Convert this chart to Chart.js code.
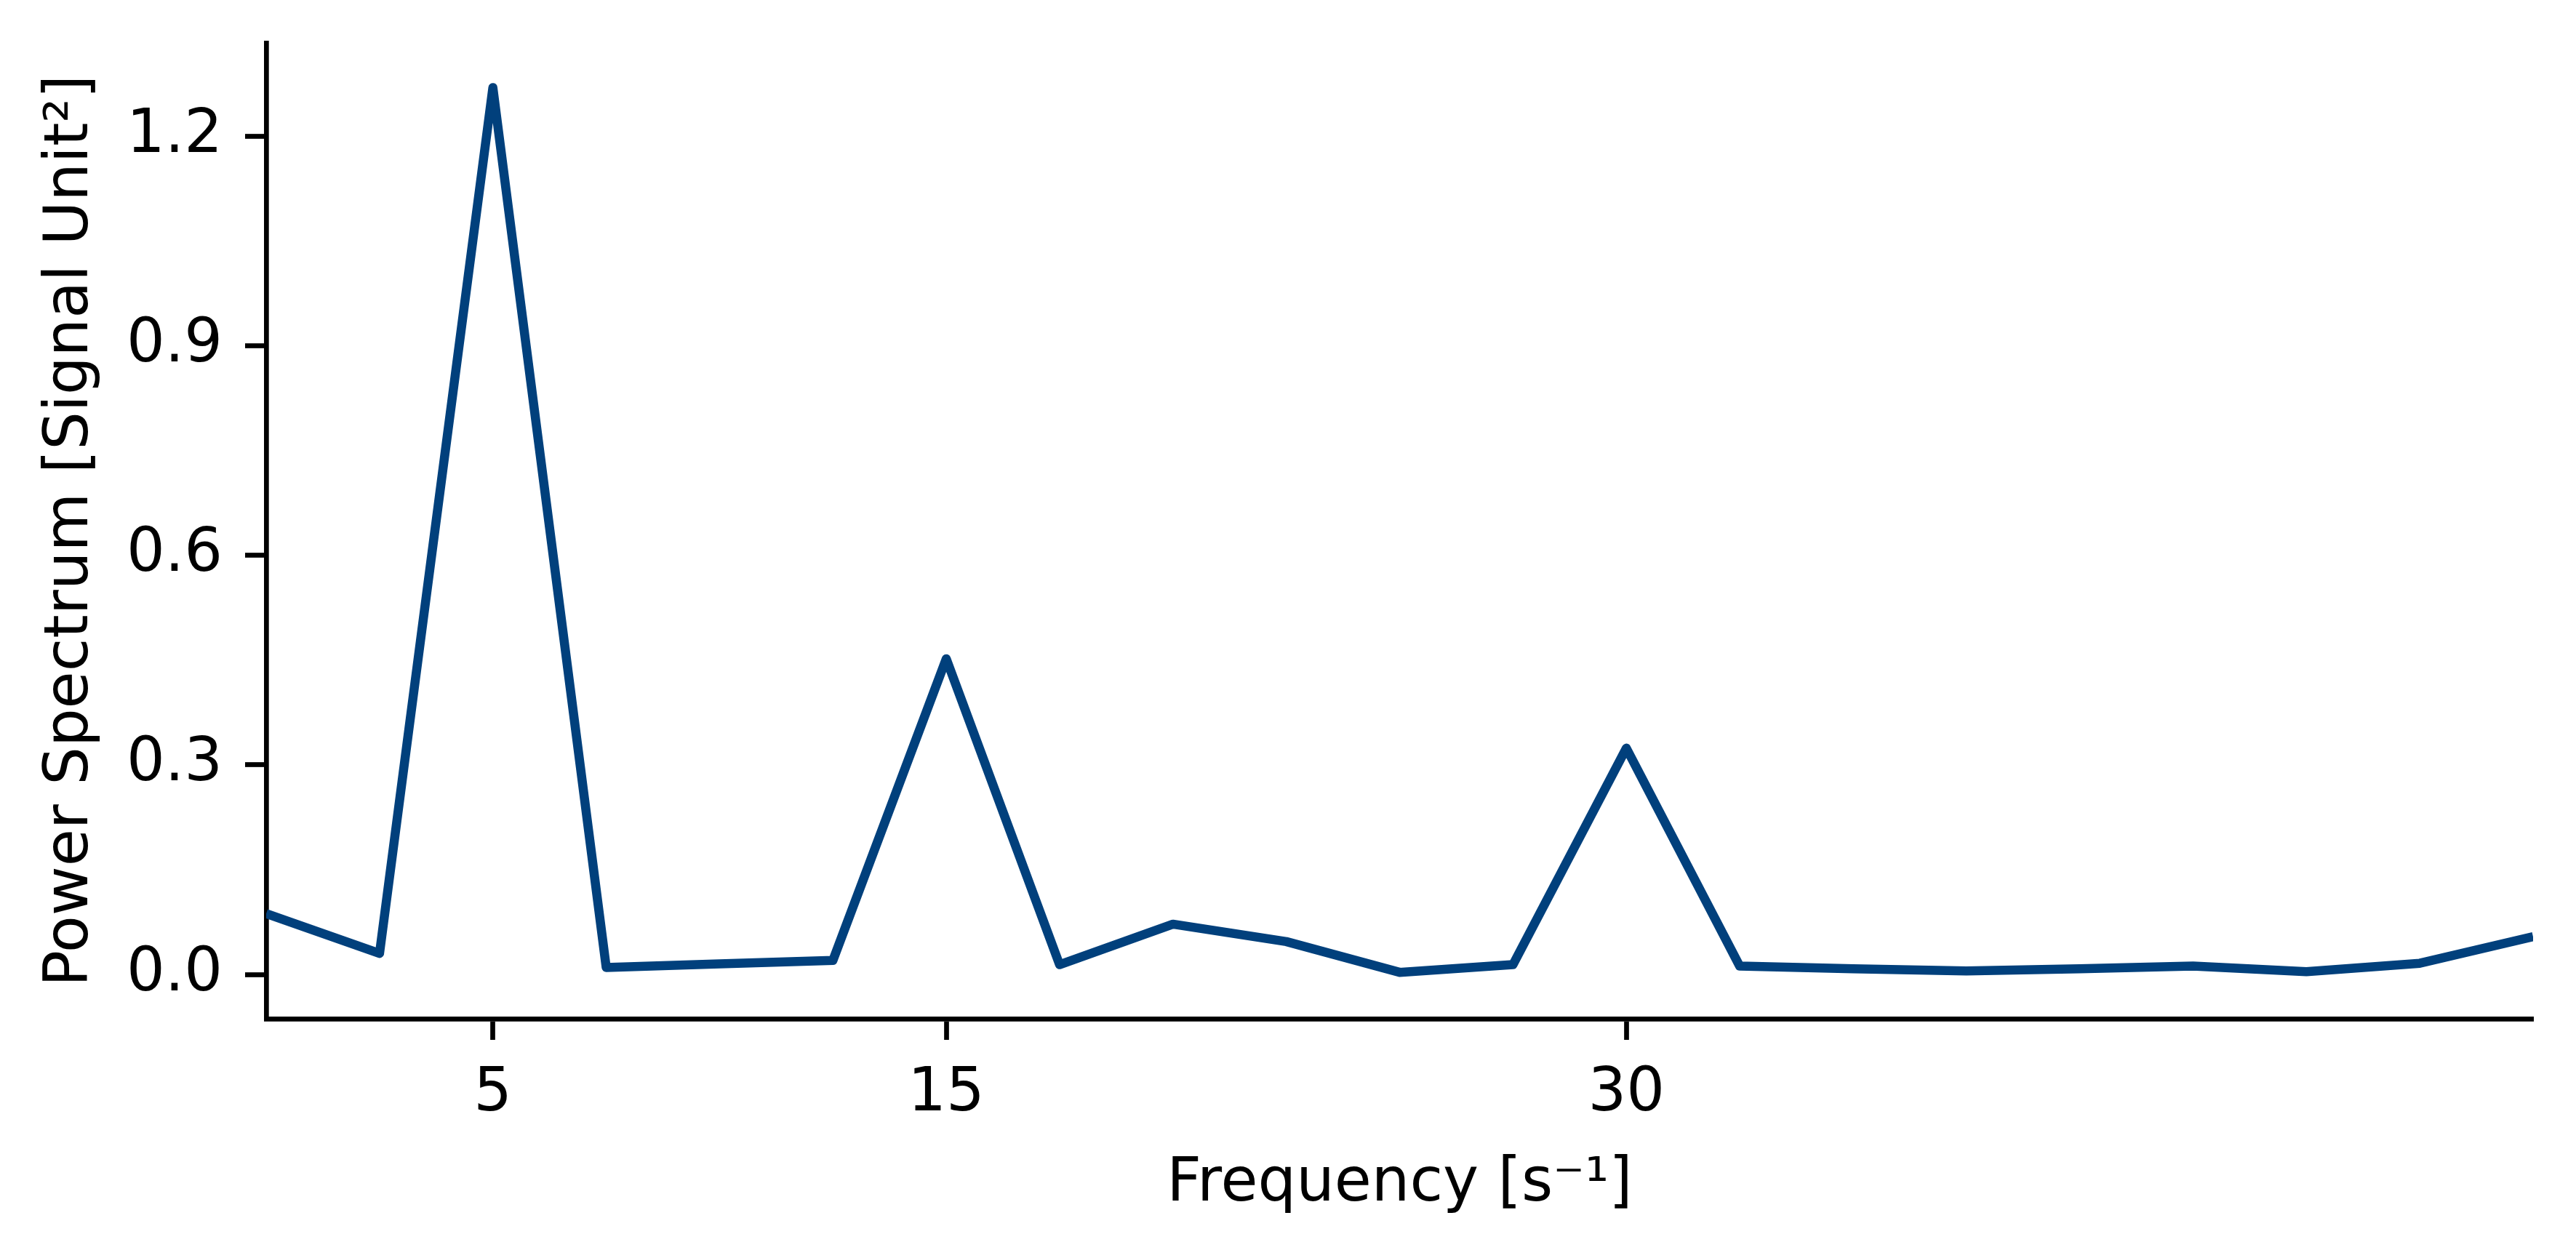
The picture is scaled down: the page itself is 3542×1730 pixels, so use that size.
<!DOCTYPE html>
<html>
<head>
<meta charset="utf-8">
<title>Power Spectrum</title>
<script src="https://cdn.jsdelivr.net/npm/chart.js@4.4.1/dist/chart.umd.min.js"></script>
<style>
  html, body { margin: 0; padding: 0; background: #fff; }
  #wrap { width: 3542px; height: 1730px; position: relative; }
</style>
</head>
<body>
<div id="wrap"><canvas id="spectrum"></canvas></div>
<script>
// frequency bins and power values
var freq = [0, 2.5, 5, 7.5, 10, 12.5, 15, 17.5, 20, 22.5, 25, 27.5, 30, 32.5, 35, 37.5, 40, 42.5, 45, 47.5, 50];
var power = [0.087, 0.030, 1.270, 0.010, 0.015, 0.020, 0.452, 0.014, 0.072, 0.047, 0.003, 0.014, 0.324, 0.012, 0.008, 0.005, 0.008, 0.012, 0.004, 0.016, 0.054];
var xTicks = [5, 15, 30];
var yTicks = [0.0, 0.3, 0.6, 0.9, 1.2];

var font = { family: 'DejaVu Sans', size: 83 };

var points = freq.map(function (f, i) {
    return { x: f, y: power[i] };
});

new Chart(document.getElementById('spectrum'), {
    type: 'line',
    data: {
        datasets: [{
            data: points,
            borderColor: '#01407c',
            borderWidth: 12.5,
            borderJoinStyle: 'round',
            borderCapStyle: 'butt',
            pointRadius: 0,
            tension: 0,
            fill: false,
            clip: 0
        }]
    },
    options: {
        responsive: true,
        maintainAspectRatio: false,
        animation: false,
        devicePixelRatio: 1,
        layout: { padding: { top: 59, right: 59, left: 0, bottom: 0 } },
        plugins: {
            legend: { display: false },
            tooltip: { enabled: false }
        },
        scales: {
            x: {
                type: 'linear',
                min: 0,
                max: 50,
                afterBuildTicks: function (scale) {
                    scale.ticks = xTicks.map(function (v) { return { value: v }; });
                },
                afterFit: function (scale) {
                    scale.height = 329;
                    scale.paddingLeft = 0;
                    scale.paddingRight = 0;
                },
                ticks: {
                    color: '#000',
                    font: font,
                    padding: 26,
                    maxRotation: 0,
                    autoSkip: false
                },
                grid: {
                    display: true,
                    drawOnChartArea: false,
                    drawTicks: true,
                    tickLength: 29,
                    tickWidth: 6.7,
                    tickColor: '#000'
                },
                border: { display: true, color: '#000', width: 6.7 },
                title: {
                    display: true,
                    text: 'Frequency [s\u207B\u00B9]',
                    color: '#000',
                    font: font,
                    padding: { top: 0, bottom: 51 }
                }
            },
            y: {
                type: 'linear',
                min: -0.0635,
                max: 1.334,
                afterBuildTicks: function (scale) {
                    scale.ticks = yTicks.map(function (v) { return { value: v }; });
                },
                afterFit: function (scale) {
                    scale.width = 366;
                    scale.paddingTop = 0;
                    scale.paddingBottom = 0;
                },
                ticks: {
                    color: '#000',
                    font: font,
                    padding: 31,
                    autoSkip: false,
                    callback: function (v) { return Number(v).toFixed(1); }
                },
                grid: {
                    display: true,
                    drawOnChartArea: false,
                    drawTicks: true,
                    tickLength: 29,
                    tickWidth: 6.7,
                    tickColor: '#000'
                },
                border: { display: true, color: '#000', width: 6.7 },
                title: {
                    display: true,
                    text: 'Power Spectrum [Signal Unit\u00B2]',
                    color: '#000',
                    font: font,
                    padding: { top: 49, bottom: 0 }
                }
            }
        }
    }
});
</script>
</body>
</html>
